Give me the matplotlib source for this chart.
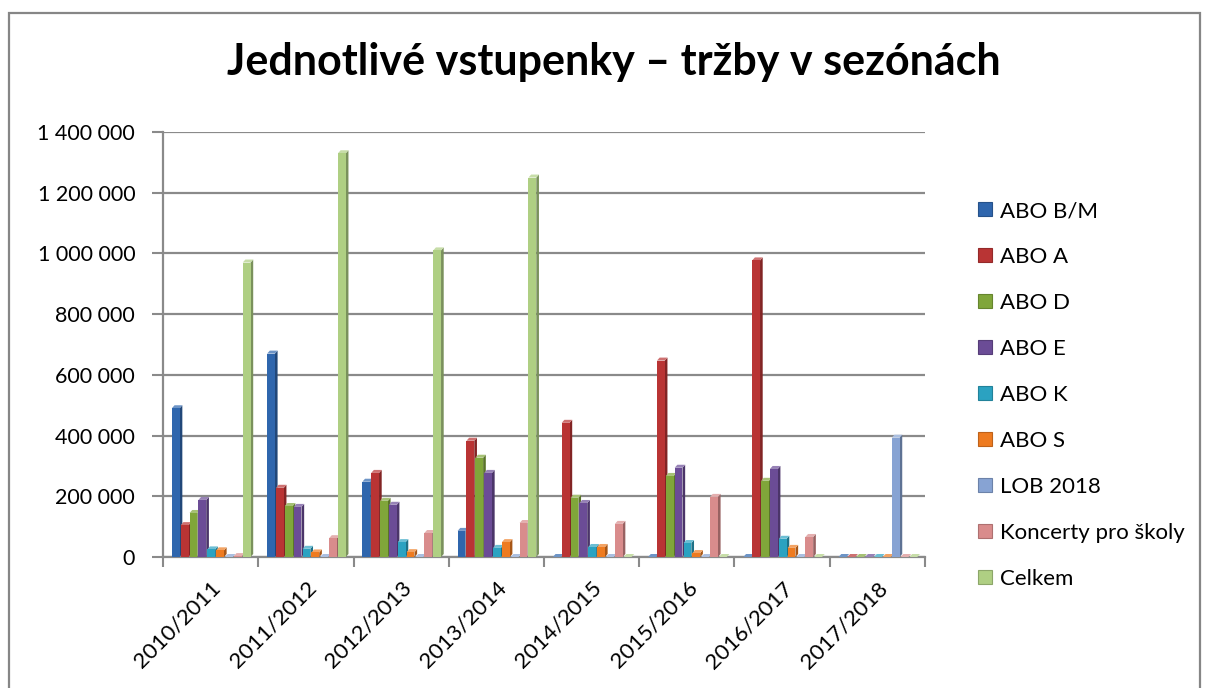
import matplotlib.pyplot as plt
from matplotlib.patches import Polygon, Patch, Rectangle
from matplotlib.ticker import FuncFormatter, MultipleLocator
import numpy as np

plt.rcParams['font.family'] = ['Lato', 'DejaVu Sans']

# seasons and revenue per ticket type (CZK)
seasons = ['2010/2011', '2011/2012', '2012/2013', '2013/2014',
           '2014/2015', '2015/2016', '2016/2017', '2017/2018']
abo_bm = [490000, 670000, 248000, 86000, 0, 0, 0, 0]
abo_a = [105000, 228000, 277000, 383000, 442000, 647000, 977000, 0]
abo_d = [145000, 168000, 185000, 327000, 195000, 267000, 251000, 0]
abo_e = [188000, 165000, 172000, 277000, 178000, 294000, 290000, 0]
abo_k = [25000, 27000, 49000, 30000, 33000, 46000, 60000, 0]
abo_s = [22000, 15000, 16000, 49000, 33000, 13000, 30000, 0]
lob_2018 = [0, 0, 0, 0, 0, 0, 0, 393000]
koncerty = [3000, 62000, 79000, 112000, 109000, 198000, 66000, 0]
celkem = [970000, 1330000, 1010000, 1250000, 0, 0, 0, 0]

series_names = ['ABO B/M', 'ABO A', 'ABO D', 'ABO E', 'ABO K', 'ABO S',
                'LOB 2018', 'Koncerty pro školy', 'Celkem']
series_values = [abo_bm, abo_a, abo_d, abo_e, abo_k, abo_s,
                 lob_2018, koncerty, celkem]
colors = ['#2F66AD', '#B93434', '#80A63A', '#6B4C96', '#2BA2C1',
          '#EE7B20', '#87A3D3', '#D98C8C', '#AFCF83']

W, H = 1205, 688
fig = plt.figure(figsize=(W / 100, H / 100), dpi=100)
ax = fig.add_axes([163 / W, 131 / H, (925 - 163) / W, (557 - 132) / H])
ymax = 1400000
ax.set_xlim(0, len(seasons))
ax.set_ylim(0, ymax)

# fake 3D columns: front face + darker side + lighter top
pitch = 0.093
face_w = 0.082
depth_x = 0.028
depth_y = 3 * ymax / 425


def shade(c, f):
    rgb = np.array(plt.matplotlib.colors.to_rgb(c))
    if f < 1:
        return tuple(rgb * f)
    return tuple(rgb + (1 - rgb) * (f - 1))


for s, (vals, col) in enumerate(zip(series_values, colors)):
    x0 = np.arange(len(seasons)) + 0.093 + s * pitch
    for x, v in zip(x0, vals):
        side = [(x + face_w, 0), (x + face_w + depth_x, depth_y),
                (x + face_w + depth_x, v + depth_y), (x + face_w, v)]
        top = [(x, v), (x + face_w, v), (x + face_w + depth_x, v + depth_y),
               (x + depth_x, v + depth_y)]
        ax.add_patch(Polygon(side, closed=True, color=shade(col, 0.7),
                             lw=0, zorder=3 + s * 0.01))
        ax.add_patch(Polygon(top, closed=True, color=shade(col, 1.3),
                             lw=0, zorder=3 + s * 0.01))
    ax.bar(x0, vals, width=face_w, align='edge', color=col,
           zorder=3.005 + s * 0.01, linewidth=0)

grid_col = '#8A8A8A'
ax.yaxis.set_major_locator(MultipleLocator(200000))
ax.yaxis.set_major_formatter(FuncFormatter(lambda v, p: f'{v:,.0f}'.replace(',', ' ')))
ax.yaxis.grid(True, color=grid_col, lw=1.6)
ax.set_axisbelow(True)

ax.set_xticks(np.arange(len(seasons)) + 0.5)
ax.set_xticklabels(seasons, rotation=45, ha='right', va='top',
                   rotation_mode='anchor')
ax.set_xticks(np.arange(len(seasons) + 1), minor=True)
ax.tick_params(axis='x', which='major', length=0, pad=15, labelsize=16)
ax.tick_params(axis='x', which='minor', length=7, width=1.5, color=grid_col)
ax.tick_params(axis='y', length=8, width=1.5, color=grid_col, labelsize=15.5,
               pad=12)

for sp in ['top', 'right']:
    ax.spines[sp].set_visible(False)
for sp in ['left', 'bottom']:
    ax.spines[sp].set_color(grid_col)
    ax.spines[sp].set_linewidth(1.6)

fig.text(0.509, (H - 62) / H, 'Jednotlivé vstupenky – tržby v sezónách',
         ha='center', va='center', fontsize=31, fontweight='bold')

handles = [Patch(facecolor=c, edgecolor=shade(c, 0.8), lw=0.8) for c in colors]
fig.legend(handles, series_names, loc='center left',
           bbox_to_anchor=(978 / W, (H - 395) / H), frameon=False,
           fontsize=16, handlelength=0.62, handleheight=0.62,
           handletextpad=0.35, labelspacing=1.17, borderpad=0,
           borderaxespad=0)

# chart area border
fig.patches.append(Rectangle((9 / W, -0.05), (1200 - 9) / W, 1.05 - 13 / H,
                             transform=fig.transFigure, fill=False,
                             edgecolor='#868686', lw=1.6))

fig.savefig('out.png', dpi=100)
